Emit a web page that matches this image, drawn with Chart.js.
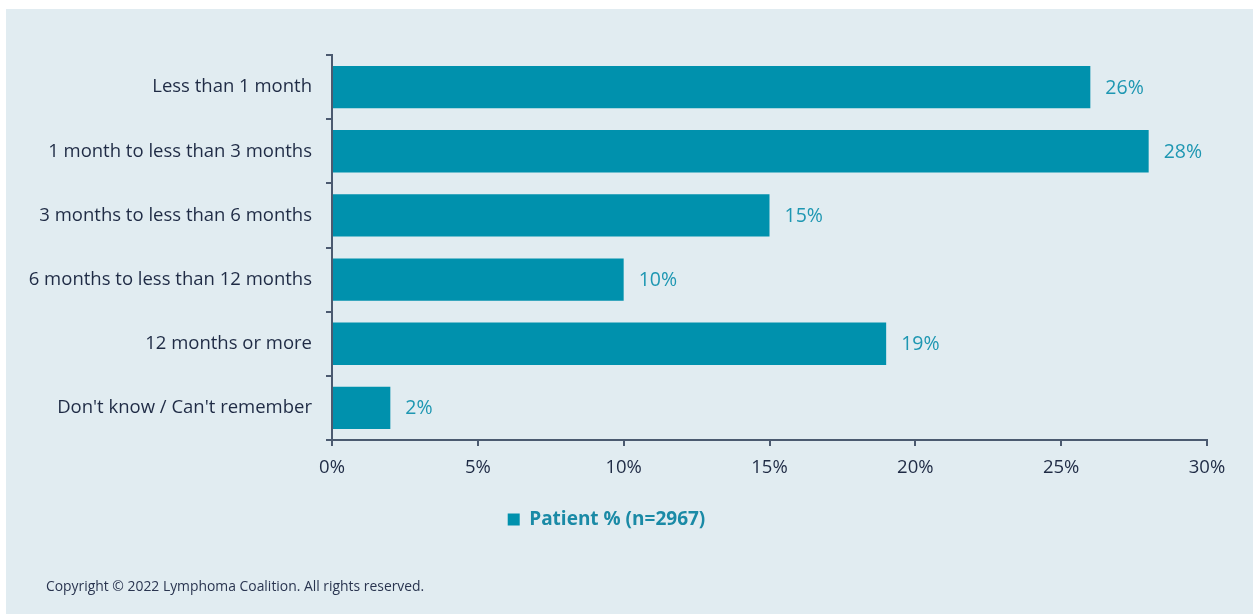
<!DOCTYPE html>
<html>
<head>
<meta charset="utf-8">
<script src="https://cdn.jsdelivr.net/npm/chart.js@4"></script>
<style>
  body { margin: 0; background: #ffffff; }
  #panel { position: absolute; left: 6px; top: 9px; width: 1247px; height: 605px; background: #e1ecf1; }
</style>
</head>
<body>
<div id="panel"><canvas id="graphe"></canvas></div>
<script>
// donnees
var categories = ["Less than 1 month", "1 month to less than 3 months", "3 months to less than 6 months",
  "6 months to less than 12 months", "12 months or more", "Don't know / Can't remember"];
var patients = [26, 28, 15, 10, 19, 2];
var legende = "Patient % (n=2967)";
var xTicks = [0, 5, 10, 15, 20, 25, 30];
var copyright = "Copyright \u00a9 2022 Lymphoma Coalition. All rights reserved.";

var police = "'Open Sans', 'Noto Sans', sans-serif";
var couleurBarre = "#0091ad";
var couleurTexte = "#1f2b45";
var couleurAxe = "#4b5a70";

// valeurs au bout des barres
var etiquettes = {
  id: "etiquettes",
  afterDatasetsDraw: function(chart) {
    var ctx = chart.ctx;
    var meta = chart.getDatasetMeta(0);
    ctx.save();
    ctx.font = "19.5px " + police;
    ctx.fillStyle = "#1e97b2";
    ctx.textAlign = "left";
    ctx.textBaseline = "middle";
    meta.data.forEach(function(bar, i) {
      ctx.fillText(patients[i] + "%", bar.x + 15, bar.y + 1);
    });
    ctx.restore();
  }
};

// texte copyright en bas
var basDePage = {
  id: "basDePage",
  afterDraw: function(chart) {
    var ctx = chart.ctx;
    ctx.save();
    ctx.font = "13.9px " + police;
    ctx.fillStyle = "#2a3550";
    ctx.textBaseline = "middle";
    ctx.fillText(copyright, 40, 578);
    ctx.restore();
  }
};

var chart = new Chart(document.getElementById("graphe"), {
  type: "bar",
  data: {
    labels: categories,
    datasets: [{
      label: legende,
      data: patients,
      backgroundColor: couleurBarre,
      barPercentage: 0.66,
      categoryPercentage: 1
    }]
  },
  options: {
    indexAxis: "y",
    responsive: true,
    maintainAspectRatio: false,
    animation: false,
    layout: { padding: { top: 46, right: 46, bottom: 75, left: 0 } },
    scales: {
      x: {
        min: 0, max: 30,
        afterBuildTicks: function(scale) {
          scale.ticks = xTicks.map(function(v) { return { value: v }; });
        },
        afterFit: function(scale) { scale.height = 60; },
        border: { color: couleurAxe, width: 2 },
        grid: { drawOnChartArea: false, drawTicks: true, tickLength: 6, color: couleurAxe, lineWidth: 2 },
        ticks: {
          padding: 11,
          color: couleurTexte,
          font: { family: police, size: 18.5 },
          callback: function(v) { return v + "%"; }
        }
      },
      y: {
        afterFit: function(scale) { scale.width = 326; },
        border: { color: couleurAxe, width: 2 },
        grid: { drawOnChartArea: false, drawTicks: true, tickLength: 6, color: couleurAxe, lineWidth: 2, offset: true },
        ticks: {
          padding: 14,
          color: couleurTexte,
          font: { family: police, size: 18.5 }
        }
      }
    },
    plugins: {
      legend: {
        position: "bottom",
        labels: {
          boxWidth: 12,
          boxHeight: 12,
          padding: 10,
          color: "#1a8aa6",
          font: { family: police, size: 19, weight: "bold" }
        }
      },
      tooltip: { enabled: false }
    }
  },
  plugins: [etiquettes, basDePage]
});
</script>
</body>
</html>
